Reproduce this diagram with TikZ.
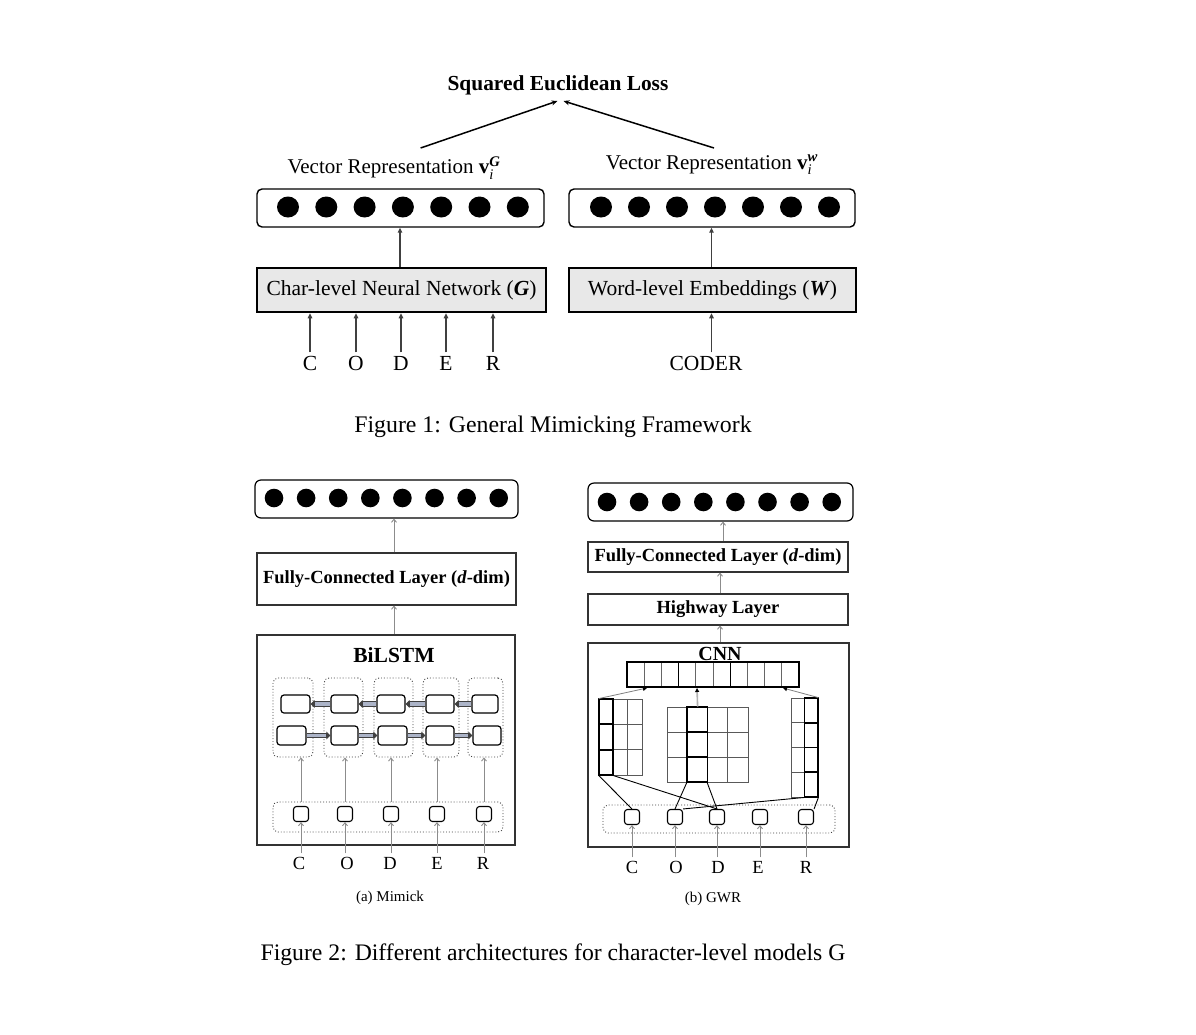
\documentclass[tikz,border=0pt]{standalone}
\usepackage{fontspec}
\usepackage{amsmath}
\setmainfont{Liberation Serif}
\usetikzlibrary{arrows.meta,calc}
\newcommand{\myfs}[1]{\fontsize{#1}{#1}\selectfont}
\definecolor{lstmfill}{RGB}{172,180,200}
\tikzset{
  vbox/.style={draw, rounded corners=5pt, line width=1.4pt, inner sep=0pt},
  gbox/.style={draw, fill=black!9, line width=2.5pt, inner sep=0pt, font=\myfs{21.5}},
  topar/.style={draw=black!75, line width=1.4pt, -{Triangle[length=5pt,width=4.5pt]}},
  lossar/.style={draw=black, line width=1.5pt, -{Stealth[length=6pt,width=5pt]}},
  toplt/.style={font=\myfs{21.5}},
  plainbox/.style={draw=black!80, line width=1.1pt, inner sep=0pt},
  blab/.style={font=\myfs{18.5}\bfseries},
  garr/.style={draw=black!45, line width=0.9pt, -{Straight Barb[length=3pt,width=5pt]}},
  dotbox/.style={draw=black!75, dotted, line width=0.9pt, rounded corners=5pt, inner sep=0pt},
  cell/.style={draw, line width=1.2pt, rounded corners=3pt, inner sep=0pt},
  sq/.style={draw, line width=1.1pt, rounded corners=3pt, inner sep=0pt, minimum width=15pt, minimum height=15pt},
  lt2/.style={font=\myfs{18.5}},
  carr/.style={draw=black!50, line width=0.8pt, -{Triangle[length=4pt,width=4pt,black]}},
  mline/.style={draw=black, line width=0.9pt},
  fvline/.style={draw=black!60, line width=1pt},
  gridl/.style={draw=black!65, line width=0.8pt},
  thk/.style={draw=black, line width=1.8pt},
}
\newcommand{\lconnL}[2]{%
  \draw[line width=5.5pt, black!75, -{Triangle[length=4pt,width=7.5pt]}] (#1) -- (#2);
  \draw[line width=3.2pt, lstmfill, shorten >=4pt, shorten <=0.8pt] (#1) -- (#2);}
\begin{document}
\begin{tikzpicture}[x=1pt,y=-1pt]
\useasboundingbox (0,0) rectangle (1196,1034);
\fill[white] (0,0) rectangle (1196,1034);

%% ---------------- Figure 1 ----------------
\node[font=\myfs{21.4}\bfseries] (loss) at (558,85) {Squared Euclidean Loss};
\coordinate (tipL) at (557.5,101);
\coordinate (tipR) at (563.5,101);
\coordinate (startL) at (420.6,148);
\coordinate (startR) at (714,148);
\draw[lossar] (startL) -- (tipL);
\draw[lossar] (startR) -- (tipR);

\node[font=\myfs{21}] (repG) at (394,168) {Vector Representation \textbf{v}$_{\textit{i}}^{\textbf{\textit{G}}}$};
\node[font=\myfs{21}] (repW) at (712,165) {Vector Representation \textbf{v}$_{\textit{i}}^{\textbf{\textit{w}}}$};

\node[vbox, minimum width=287pt, minimum height=38pt] (vecG) at (400.5,208) {};
\node[vbox, minimum width=286pt, minimum height=38pt] (vecW) at (712,208) {};
\foreach \i in {0,...,6} {
  \fill ({288+38.3*\i},207) ellipse [x radius=11pt, y radius=10.5pt];
  \fill ({601+38*\i},207) ellipse [x radius=11pt, y radius=10.5pt];
}

\node[gbox, minimum width=289pt, minimum height=44pt] (chr) at (401.5,290) {Char-level Neural Network (\textbf{\textit{G}})};
\node[gbox, minimum width=287pt, minimum height=44pt] (wrd) at (712.5,290) {Word-level Embeddings (\textbf{\textit{W}})};
\draw[topar] (chr.north -| 400,0) -- (vecG.south -| 400,0);
\draw[topar] (wrd.north -| 711.5,0) -- (vecW.south -| 711.5,0);

\node[toplt] (t1) at (310,363) {C};
\node[toplt] (t2) at (356,363) {O};
\node[toplt] (t3) at (401,363) {D};
\node[toplt] (t4) at (446,363) {E};
\node[toplt] (t5) at (493,363) {R};
\node[toplt] (tw) at (706,363) {CODER};
\foreach \k in {1,...,5} \draw[topar] (t\k.north) -- (t\k.north |- chr.south);
\draw[topar] (tw.north -| 711.5,0) -- (wrd.south -| 711.5,0);

\node[font=\myfs{23.8}] (cap1) at (553,427) {Figure 1: General Mimicking Framework};

%% ---------------- Figure 2a ----------------
\node[vbox, line width=1.2pt, rounded corners=6pt, minimum width=263pt, minimum height=38pt] (vecA) at (386.5,499) {};
\foreach \i in {0,...,7} \fill ({274+32.1*\i},498) circle [radius=9.3pt];
\node[plainbox, blab, minimum width=259pt, minimum height=52pt] (fcA) at (386.5,579) {Fully-Connected Layer (\textbf{\textit{d}}-dim)};
\node[plainbox, line width=1.3pt, minimum width=258pt, minimum height=210pt] (bil) at (386,740) {};
\node[font=\myfs{21.5}\bfseries] (bilt) at (394,655) {BiLSTM};
\draw[garr] (fcA.north -| 394,0) -- (vecA.south -| 394,0);
\draw[garr] (bil.north -| 394,0) -- (fcA.south -| 394,0);

% columns
\node[dotbox, minimum width=40pt, minimum height=79pt] (col1) at (293,717.5) {};
\node[dotbox, minimum width=39pt, minimum height=79pt] (col2) at (343.5,717.5) {};
\node[dotbox, minimum width=39pt, minimum height=79pt] (col3) at (393.5,717.5) {};
\node[dotbox, minimum width=36pt, minimum height=79pt] (col4) at (441,717.5) {};
\node[dotbox, minimum width=35pt, minimum height=79pt] (col5) at (485.5,717.5) {};
% cells
\node[cell, minimum width=29pt, minimum height=18pt] (a1) at (295.5,704) {};
\node[cell, minimum width=27pt, minimum height=18pt] (a2) at (344.5,704) {};
\node[cell, minimum width=28pt, minimum height=18pt] (a3) at (391,704) {};
\node[cell, minimum width=28pt, minimum height=18pt] (a4) at (440,704) {};
\node[cell, minimum width=26pt, minimum height=18pt] (a5) at (485,704) {};
\node[cell, minimum width=29pt, minimum height=19pt] (b1) at (291.5,735.5) {};
\node[cell, minimum width=27pt, minimum height=19pt] (b2) at (344.5,735.5) {};
\node[cell, minimum width=29pt, minimum height=19pt] (b3) at (392.5,735.5) {};
\node[cell, minimum width=28pt, minimum height=19pt] (b4) at (440,735.5) {};
\node[cell, minimum width=28pt, minimum height=19pt] (b5) at (487,735.5) {};
\lconnL{a2.west}{a1.east}
\lconnL{a3.west}{a2.east}
\lconnL{a4.west}{a3.east}
\lconnL{a5.west}{a4.east}
\lconnL{b1.east}{b2.west}
\lconnL{b2.east}{b3.west}
\lconnL{b3.east}{b4.west}
\lconnL{b4.east}{b5.west}

% inputs
\node[dotbox, minimum width=230pt, minimum height=30pt] (inA) at (388,817) {};
\node[sq] (sA1) at (301,814) {};
\node[sq] (sA2) at (345,814) {};
\node[sq] (sA3) at (391,814) {};
\node[sq] (sA4) at (437,814) {};
\node[sq] (sA5) at (484,814) {};
\foreach \k in {1,...,5} \draw[garr] (sA\k |- inA.north) -- (sA\k |- col\k.south);
\node[lt2] (la1) at (299,863) {C};
\node[lt2] (la2) at (347,863) {O};
\node[lt2] (la3) at (390,863) {D};
\node[lt2] (la4) at (437,863) {E};
\node[lt2] (la5) at (483,863) {R};
\foreach \k in {1,...,5} \draw[garr] (sA\k |- la\k.north) -- (sA\k.south);
\node[font=\myfs{15}] (capa) at (390,898) {(a) Mimick};

%% ---------------- Figure 2b ----------------
\node[vbox, line width=1.2pt, rounded corners=6pt, minimum width=265pt, minimum height=38pt] (vecB) at (720.5,502) {};
\foreach \i in {0,...,7} \fill ({607+32.1*\i},502) circle [radius=9.3pt];
\node[plainbox, blab, minimum width=260pt, minimum height=30pt] (fcB) at (718,557) {Fully-Connected Layer (\textbf{\textit{d}}-dim)};
\node[plainbox, blab, minimum width=260pt, minimum height=31pt] (hwB) at (718,609.5) {Highway Layer};
\node[plainbox, line width=1.3pt, minimum width=261pt, minimum height=204pt] (cnnB) at (718.5,745) {};
\draw[garr] (fcB.north -| 723,0) -- (vecB.south -| 723,0);
\draw[garr] (hwB.north -| 720,0) -- (fcB.south -| 720,0);
\draw[garr] (cnnB.north -| 720,0) -- (hwB.south -| 720,0);

% feature vector
\foreach \k in {1,...,9} \draw[fvline] ({627+17.2*\k},662) -- ({627+17.2*\k},687);
\draw[thk, line width=1.4pt] ({627+17.2*3},662) -- ({627+17.2*3},687);
\draw[thk, line width=1.4pt] ({627+17.2*6},662) -- ({627+17.2*6},687);
\node[draw, line width=2pt, minimum width=172pt, minimum height=25pt, inner sep=0pt] (fv) at (713,674.5) {};
\node[font=\myfs{20}\bfseries] (cnnt) at (720,654) {CNN};

% left matrix
\node[draw=black!65, line width=0.8pt, minimum width=43pt, minimum height=76pt, inner sep=0pt] (mL) at (620.5,737) {};
\foreach \k in {1,2} {
  \draw[gridl] ({599+14.33*\k},699) -- ({599+14.33*\k},775);
  \draw[gridl] (599,{699+25.33*\k}) -- (642,{699+25.33*\k});
}
\draw[thk] (599,699) rectangle (613.33,775);
\foreach \k in {1,2} \draw[thk] (599,{699+25.33*\k}) -- (613.33,{699+25.33*\k});

% middle matrix
\node[draw=black!65, line width=0.8pt, minimum width=81pt, minimum height=75pt, inner sep=0pt] (mM) at (707.5,744.5) {};
\foreach \k in {1,2,3} \draw[gridl] ({667+20.25*\k},707) -- ({667+20.25*\k},782);
\foreach \k in {1,2} \draw[gridl] (667,{707+25*\k}) -- (748,{707+25*\k});
\draw[thk] (687.25,707) rectangle (707.5,782);
\foreach \k in {1,2} \draw[thk] (687.25,{707+25*\k}) -- (707.5,{707+25*\k});

% right matrix
\node[draw=black!65, line width=0.8pt, minimum width=27pt, minimum height=99pt, inner sep=0pt] (mR) at (804.5,747.5) {};
\draw[gridl] (804.5,698) -- (804.5,797);
\foreach \k in {1,2,3} \draw[gridl] (791,{698+24.75*\k}) -- (818,{698+24.75*\k});
\draw[thk] (804.5,698) rectangle (818,797);
\foreach \k in {1,2,3} \draw[thk] (804.5,{698+24.75*\k}) -- (818,{698+24.75*\k});

% arrows to feature vector
\draw[carr] (mL.north west) -- ($(fv.south west)+(21,0)$);
\draw[draw=black!30, line width=1.6pt, -{Triangle[length=4pt,width=4pt,black]}] ($(mM.north west)+(31,0)$) -- ($(fv.south west)+(71,0)$);
\draw[carr] (mR.north east) -- ($(fv.south east)+(-17,0)$);

% inputs
\node[dotbox, minimum width=232pt, minimum height=28pt] (inB) at (719,819) {};
\node[sq] (sB1) at (632,817) {};
\node[sq] (sB2) at (675,817) {};
\node[sq] (sB3) at (717,817) {};
\node[sq] (sB4) at (760,817) {};
\node[sq] (sB5) at (806,817) {};
\draw[mline] (sB1.north) -- (mL.south west);
\draw[mline] (sB3.north) -- ($(mL.south west)+(14.33,0)$);
\draw[mline] (sB2.north) -- ($(mM.south west)+(20.25,0)$);
\draw[mline] (sB3.north) -- ($(mM.south west)+(40.5,0)$);
\draw[mline] (sB2.north east) -- ($(mR.south east)+(-13.5,0)$);
\draw[mline] (sB5.north east) -- (mR.south east);
\node[lt2] (lb1) at (632,867) {C};
\node[lt2] (lb2) at (676,867) {O};
\node[lt2] (lb3) at (718,867) {D};
\node[lt2] (lb4) at (758,867) {E};
\node[lt2] (lb5) at (806,867) {R};
\foreach \k in {1,...,5} \draw[garr] (sB\k |- lb\k.north) -- (sB\k.south);
\node[font=\myfs{15}] (capb) at (713,899) {(b) GWR};

\node[font=\myfs{23.7}] (cap2) at (553,955) {Figure 2: Different architectures for character-level models G};
\end{tikzpicture}
\end{document}
